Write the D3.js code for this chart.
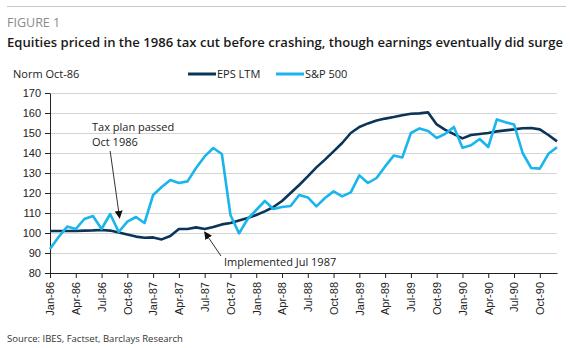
<!DOCTYPE html>
<html>
<head>
<meta charset="utf-8">
<script src="https://cdn.jsdelivr.net/npm/d3@7"></script>
<style>
  body { margin: 0; background: #fff; }
  svg { font-family: 'Open Sans', sans-serif; }
  .grid line { stroke: #d4d4d4; }
  .grid path { display: none; }
  .axis text { font-size: 11px; fill: #222; }
  .axis path, .axis line { stroke: #222; }
</style>
</head>
<body>
<svg class="chart" width="576" height="348"></svg>
<script>
// monthly, Jan-86 .. Dec-90
const epsLtm = [
  101, 101, 101, 101, 101.2, 101.3, 101.5, 101.2, 100.3, 99.2, 98.2, 97.6,
  97.8, 96.8, 98.5, 102, 102, 102.8, 102, 103, 104.3, 105, 106.3, 107.5,
  109, 110.8, 113, 116, 120, 124, 128.3, 132.8, 136.7, 140.8, 145, 150,
  153, 154.8, 156.2, 157.2, 158, 158.9, 159.6, 159.8, 160.3, 154.3, 151.6, 149.4,
  147.3, 149, 149.5, 150, 150.8, 151.3, 151.8, 152.4, 152.5, 151.8, 149, 145.8,
]
const sp500 = [
  92, 98, 103.2, 102, 107, 108.5, 102, 109.5, 100.5, 105.7, 108, 105,
  119, 123, 126.5, 125, 125.8, 132.5, 138.3, 142.5, 139.5, 109, 99.8, 107,
  111.5, 116, 112, 113, 113.5, 119, 117.8, 113.3, 117.5, 120.8, 118.3, 120.3,
  128.8, 125, 127.5, 133.3, 138.7, 137.8, 150, 152.3, 151, 147.5, 149.6, 153,
  142.6, 143.9, 147, 143, 156.8, 155.4, 154.3, 140, 132.5, 132.2, 139.6, 142.9,
]
const xTickLabels = [
  'Jan-86', 'Apr-86', 'Jul-86', 'Oct-86', 'Jan-87', 'Apr-87', 'Jul-87', 'Oct-87',
  'Jan-88', 'Apr-88', 'Jul-88', 'Oct-88', 'Jan-89', 'Apr-89', 'Jul-89', 'Oct-89',
  'Jan-90', 'Apr-90', 'Jul-90', 'Oct-90',
]
const yTicks = [80, 90, 100, 110, 120, 130, 140, 150, 160, 170]

const svg = d3.select('.chart')

const plotLeft = 50
const plotRight = 557
const plotTop = 93
const plotBottom = 273

const xScale = d3.scaleLinear().domain([0, epsLtm.length - 1]).range([plotLeft, plotRight])
const yScale = d3.scaleLinear().domain([80, 170]).range([plotBottom, plotTop])

// header
svg.append('line')
  .attr('x1', 7).attr('x2', 566).attr('y1', 6.5).attr('y2', 6.5)
  .attr('stroke', '#c8c8c8').attr('stroke-width', 1)

svg.append('text')
  .attr('x', 7).attr('y', 27)
  .attr('font-size', 12.5).attr('fill', '#8a8a8a')
  .text('FIGURE 1')

svg.append('text')
  .attr('x', 7).attr('y', 47)
  .attr('font-size', 12.5).attr('font-weight', 600).attr('fill', '#1a1a1a')
  .attr('textLength', 556).attr('lengthAdjust', 'spacingAndGlyphs')
  .text('Equities priced in the 1986 tax cut before crashing, though earnings eventually did surge')

svg.append('text')
  .attr('x', 13).attr('y', 78)
  .attr('font-size', 11).attr('fill', '#222')
  .text('Norm  Oct-86')

// grid
svg.append('g')
  .attr('class', 'grid')
  .attr('transform', `translate(${plotLeft}, 0)`)
  .call(d3.axisLeft(yScale).tickValues(yTicks.slice(1)).tickSize(-(plotRight - plotLeft)).tickFormat(''))

// y axis
svg.append('g')
  .attr('class', 'axis')
  .attr('transform', `translate(${plotLeft}, 0)`)
  .call(d3.axisLeft(yScale).tickValues(yTicks).tickSize(5).tickSizeOuter(0).tickPadding(4))

// x axis
const xAxis = svg.append('g')
  .attr('class', 'axis')
  .attr('transform', `translate(0, ${plotBottom})`)
  .call(d3.axisBottom(xScale)
    .tickValues(xTickLabels.map((d, i) => i * 3))
    .tickFormat((d, i) => xTickLabels[i])
    .tickSize(5)
    .tickSizeOuter(0))

xAxis.selectAll('text')
  .attr('transform', 'rotate(-90)')
  .attr('text-anchor', 'end')
  .attr('dy', '0.35em')
  .attr('x', -9)
  .attr('y', 0)
  .attr('font-size', 10.5)

// lines
const line = d3.line()
  .x((d, i) => xScale(i))
  .y(d => yScale(d))

svg.append('path')
  .datum(epsLtm)
  .attr('fill', 'none')
  .attr('stroke', '#0b3558')
  .attr('stroke-width', 2.6)
  .attr('stroke-linejoin', 'round')
  .attr('d', line)

svg.append('path')
  .datum(sp500)
  .attr('fill', 'none')
  .attr('stroke', '#19b5ec')
  .attr('stroke-width', 2.6)
  .attr('stroke-linejoin', 'round')
  .attr('d', line)

// legend
const legend = [
  { name: 'EPS LTM', color: '#0b3558', x: 188 },
  { name: 'S&P 500', color: '#19b5ec', x: 276 },
]
legend.forEach(l => {
  svg.append('line')
    .attr('x1', l.x).attr('x2', l.x + 28).attr('y1', 74).attr('y2', 74)
    .attr('stroke', l.color).attr('stroke-width', 3)
  svg.append('text')
    .attr('x', l.x + 29).attr('y', 78)
    .attr('font-size', 11).attr('fill', '#222')
    .text(l.name)
})

// annotations
svg.append('defs').append('marker')
  .attr('id', 'arrow')
  .attr('viewBox', '0 0 10 10')
  .attr('refX', 9).attr('refY', 5)
  .attr('markerWidth', 8).attr('markerHeight', 8)
  .attr('orient', 'auto')
  .append('path')
  .attr('d', 'M0,0 L10,5 L0,10 z')
  .attr('fill', '#111')

const note1 = svg.append('text')
  .attr('font-size', 11).attr('fill', '#222')
note1.append('tspan').attr('x', 92).attr('y', 131).text('Tax plan passed')
note1.append('tspan').attr('x', 92).attr('y', 146).text('Oct 1986')

svg.append('line')
  .attr('x1', xScale(7)).attr('y1', 151)
  .attr('x2', xScale(8.1)).attr('y2', yScale(107.5))
  .attr('stroke', '#333').attr('stroke-width', 1)
  .attr('marker-end', 'url(#arrow)')

svg.append('text')
  .attr('x', 224).attr('y', 266)
  .attr('font-size', 11).attr('fill', '#222')
  .text('Implemented Jul 1987')

svg.append('line')
  .attr('x1', 221).attr('y1', 256)
  .attr('x2', xScale(18)).attr('y2', yScale(100.5))
  .attr('stroke', '#333').attr('stroke-width', 1)
  .attr('marker-end', 'url(#arrow)')

svg.append('text')
  .attr('x', 7).attr('y', 342)
  .attr('font-size', 9.5).attr('fill', '#333')
  .text('Source: IBES, Factset, Barclays Research')
</script>
</body>
</html>
